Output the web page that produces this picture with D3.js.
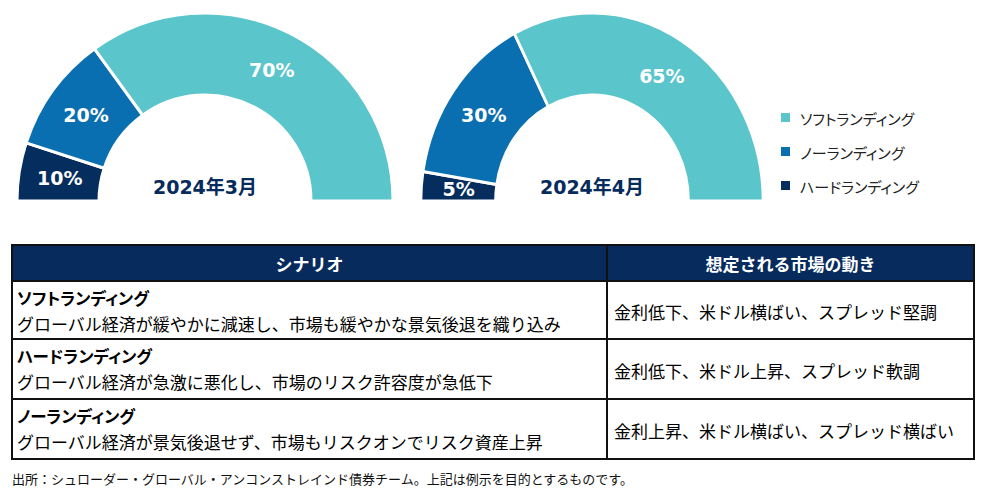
<!DOCTYPE html>
<html><head><meta charset="utf-8">
<script src="https://cdn.jsdelivr.net/npm/d3@7"></script>
<style>
html,body{margin:0;padding:0;background:#fff;}
svg{display:block;}
text{font-family:"Noto Sans CJK JP","Noto Sans",sans-serif;}
.num{font-family:"DejaVu Sans",sans-serif;font-weight:bold;}
</style></head>
<body>
<svg id="chart" width="987" height="493"></svg>
<script>
const categories = ["ハードランディング", "ノーランディング", "ソフトランディング"];
const periods = ["2024年3月", "2024年4月"];
const valuesMar = [10, 20, 70];
const valuesApr = [5, 30, 65];
const legendOrder = ["ソフトランディング", "ノーランディング", "ハードランディング"];
const colors = {"ソフトランディング":"#5bc5cc","ノーランディング":"#0a6fb0","ハードランディング":"#052d5e"};
const headerCols = ["シナリオ", "想定される市場の動き"];
const scenarioTitles = ["ソフトランディング", "ハードランディング", "ノーランディング"];
const scenarioDescs = ["グローバル経済が緩やかに減速し、市場も緩やかな景気後退を織り込み",
  "グローバル経済が急激に悪化し、市場のリスク許容度が急低下",
  "グローバル経済が景気後退せず、市場もリスクオンでリスク資産上昇"];
const marketMoves = ["金利低下、米ドル横ばい、スプレッド堅調",
  "金利低下、米ドル上昇、スプレッド軟調",
  "金利上昇、米ドル横ばい、スプレッド横ばい"];
const footnote = "出所：シュローダー・グローバル・アンコンストレインド債券チーム。上記は例示を目的とするものです。";

const svg = d3.select("#chart");
const navy = "#062b5c";

const pie = d3.pie().sort(null).startAngle(-Math.PI/2).endAngle(Math.PI/2).value(d=>d.v);
const R = 188, r = 106;
const arc = d3.arc().innerRadius(r).outerRadius(R);
const labelArc = d3.arc().innerRadius((R+r)/2).outerRadius((R+r)/2);

function donut(cx, cy, sx, values, period){
  const data = pie(values.map((v,i)=>({k:categories[i], v})));
  const g = svg.append("g").attr("transform",`translate(${cx},${cy}) scale(${sx},1)`);
  g.selectAll("path").data(data).join("path")
    .attr("d", arc).attr("fill", d=>colors[d.data.k])
    .attr("stroke","#fff").attr("stroke-width",3).attr("stroke-linejoin","miter");
  const lg = svg.append("g").attr("transform",`translate(${cx},${cy})`);
  lg.selectAll("text").data(data).join("text")
    .attr("class","num")
    .attr("x", d=>labelArc.centroid(d)[0]*sx)
    .attr("y", d=>Math.min(labelArc.centroid(d)[1], -12))
    .attr("text-anchor","middle").attr("dominant-baseline","central")
    .attr("fill","#fff").attr("font-size",19)
    .text(d=>d.data.v+"%");
  lg.append("text").attr("x",0).attr("y",-14)
    .attr("text-anchor","middle").attr("dominant-baseline","central")
    .attr("fill",navy).attr("font-weight","bold").attr("font-size",19)
    .style("font-family","'DejaVu Sans','Noto Sans CJK JP',sans-serif")
    .text(period);
}
donut(205, 201, 1, valuesMar, periods[0]);
donut(592, 201, 0.91, valuesApr, periods[1]);
svg.append("rect").attr("x",0).attr("y",201).attr("width",987).attr("height",5).attr("fill","#fff");

// legend
const leg = svg.append("g");
legendOrder.forEach((k,i)=>{
  const y = 118 + i*34;
  leg.append("rect").attr("x",781).attr("y",y-5).attr("width",9).attr("height",9).attr("fill",colors[k]);
  leg.append("text").attr("x",800).attr("y",y).attr("dominant-baseline","central")
    .attr("font-size",15).attr("fill","#222").style("font-feature-settings","'palt'").text(k);
});

// table
const tx0 = 12, tx1 = 607, tx2 = 974;
const ty = [245, 281, 339, 399, 459];
const tg = svg.append("g");
tg.append("rect").attr("x",tx0).attr("y",ty[0]).attr("width",tx2-tx0).attr("height",ty[1]-ty[0]).attr("fill",navy);
headerCols.forEach((h,i)=>{
  const cx = i===0 ? (tx0+tx1)/2 : (tx1+tx2)/2;
  tg.append("text").attr("x",cx).attr("y",(ty[0]+ty[1])/2).attr("text-anchor","middle")
    .attr("dominant-baseline","central").attr("fill","#fff").attr("font-weight","bold")
    .attr("font-size",17).text(h);
});
scenarioTitles.forEach((t,i)=>{
  const top = ty[i+1], bot = ty[i+2];
  tg.append("text").attr("x",17).attr("y",top+17).attr("dominant-baseline","central")
    .attr("font-weight","bold").attr("font-size",16.5).attr("fill","#000")
    .style("font-feature-settings","'palt'").text(t);
  tg.append("text").attr("x",17).attr("y",top+42).attr("dominant-baseline","central")
    .attr("font-size",17).attr("fill","#000").text(scenarioDescs[i]);
  tg.append("text").attr("x",614).attr("y",(top+bot)/2+1).attr("dominant-baseline","central")
    .attr("font-size",17).attr("fill","#000").text(marketMoves[i]);
});
// grid lines
const lines = tg.append("g").attr("stroke","#111").attr("stroke-width",2).attr("fill","none");
lines.append("rect").attr("x",tx0).attr("y",ty[0]).attr("width",tx2-tx0).attr("height",ty[4]-ty[0]);
ty.slice(1,4).forEach(y=>lines.append("line").attr("x1",tx0).attr("x2",tx2).attr("y1",y).attr("y2",y));
lines.append("line").attr("x1",tx1).attr("x2",tx1).attr("y1",ty[0]).attr("y2",ty[4]);

svg.append("text").attr("x",12).attr("y",478).attr("dominant-baseline","central")
  .attr("font-size",13).attr("fill","#111").text(footnote);
</script>
</body></html>
